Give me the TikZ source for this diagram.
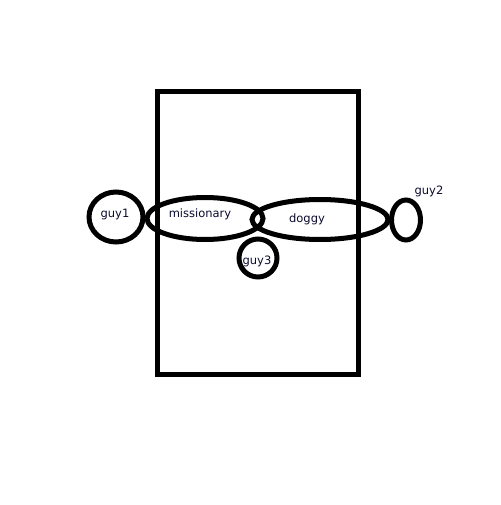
\documentclass[tikz,border=0pt]{standalone}
\usepackage{fontspec}
\setmainfont{DejaVu Sans}
\begin{document}
\begin{tikzpicture}[x=1pt,y=-1pt,
  stroke/.style={draw=black,line width=5pt},
  lbl/.style={text=txtc,font=\fontsize{11.5}{13}\selectfont,inner sep=0pt}]
\definecolor{txtc}{HTML}{0C0C30}
\useasboundingbox[fill=white] (0,0) rectangle (500,505);
\draw[stroke] (157.5,91.5) rectangle (358.5,374);
\draw[stroke] (116,217) ellipse [x radius=27, y radius=25];
\draw[stroke] (205,218.5) ellipse [x radius=58, y radius=21];
\draw[stroke] (320,219.5) ellipse [x radius=68, y radius=20];
\draw[stroke] (406,220) ellipse [x radius=14.5, y radius=20];
\draw[stroke] (258,258) circle [radius=19];
\node[lbl] (guy1) at (115,214.5) {guy1};
\node[lbl] (missionary) at (200,214.5) {missionary};
\node[lbl] (doggy) at (307,219.5) {doggy};
\node[lbl] (guy2) at (429,191.5) {guy2};
\node[lbl] (guy3) at (257,261.5) {guy3};
\end{tikzpicture}
\end{document}
